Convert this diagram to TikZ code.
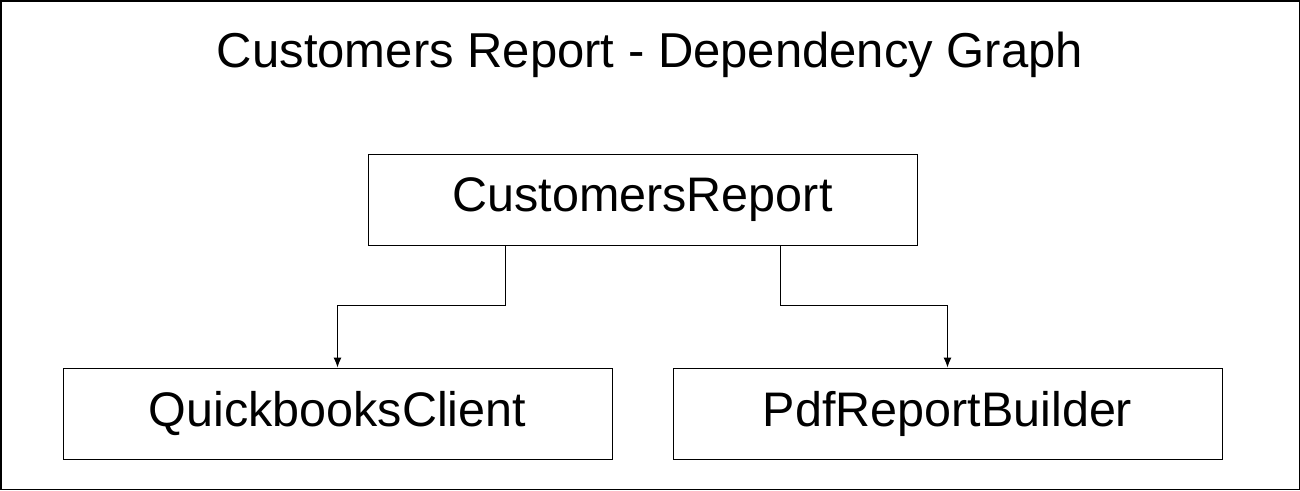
\documentclass[tikz,border=0pt]{standalone}
\usepackage{fontspec}
\setmainfont{Liberation Sans}
\usetikzlibrary{positioning,arrows.meta}
\tikzset{
  classbox/.style={draw, line width=1pt, minimum width=549pt, minimum height=91pt,
    inner sep=0pt, font=\fontsize{48.5}{54}\selectfont},
  dep/.style={draw, line width=1pt, -{Latex[length=10pt,width=8pt]}}
}
\begin{document}
\begin{tikzpicture}[x=1pt,y=-1pt]
\useasboundingbox (0,0) rectangle (1300,490);
\draw[line width=1.5pt] (0.75,0.75) rectangle (1299.25,489.25);
\node[font=\fontsize{49}{55}\selectfont] (title) at (650,55) {Customers Report - Dependency Graph};

\node[classbox] (report) at (642.5,199.5) {CustomersReport};
\node[classbox] (qb) at (337.5,413.5) {QuickbooksClient};
\node[classbox] (pdf) at (947.5,413.5) {PdfReportBuilder};

\coordinate (qbbend) at (505,305);
\coordinate (pdfbend) at (780,305);
\draw[dep] (report.south -| qbbend) -- (qbbend) -| (qb.north);
\draw[dep] (report.south -| pdfbend) -- (pdfbend) -| (pdf.north);
\end{tikzpicture}
\end{document}
